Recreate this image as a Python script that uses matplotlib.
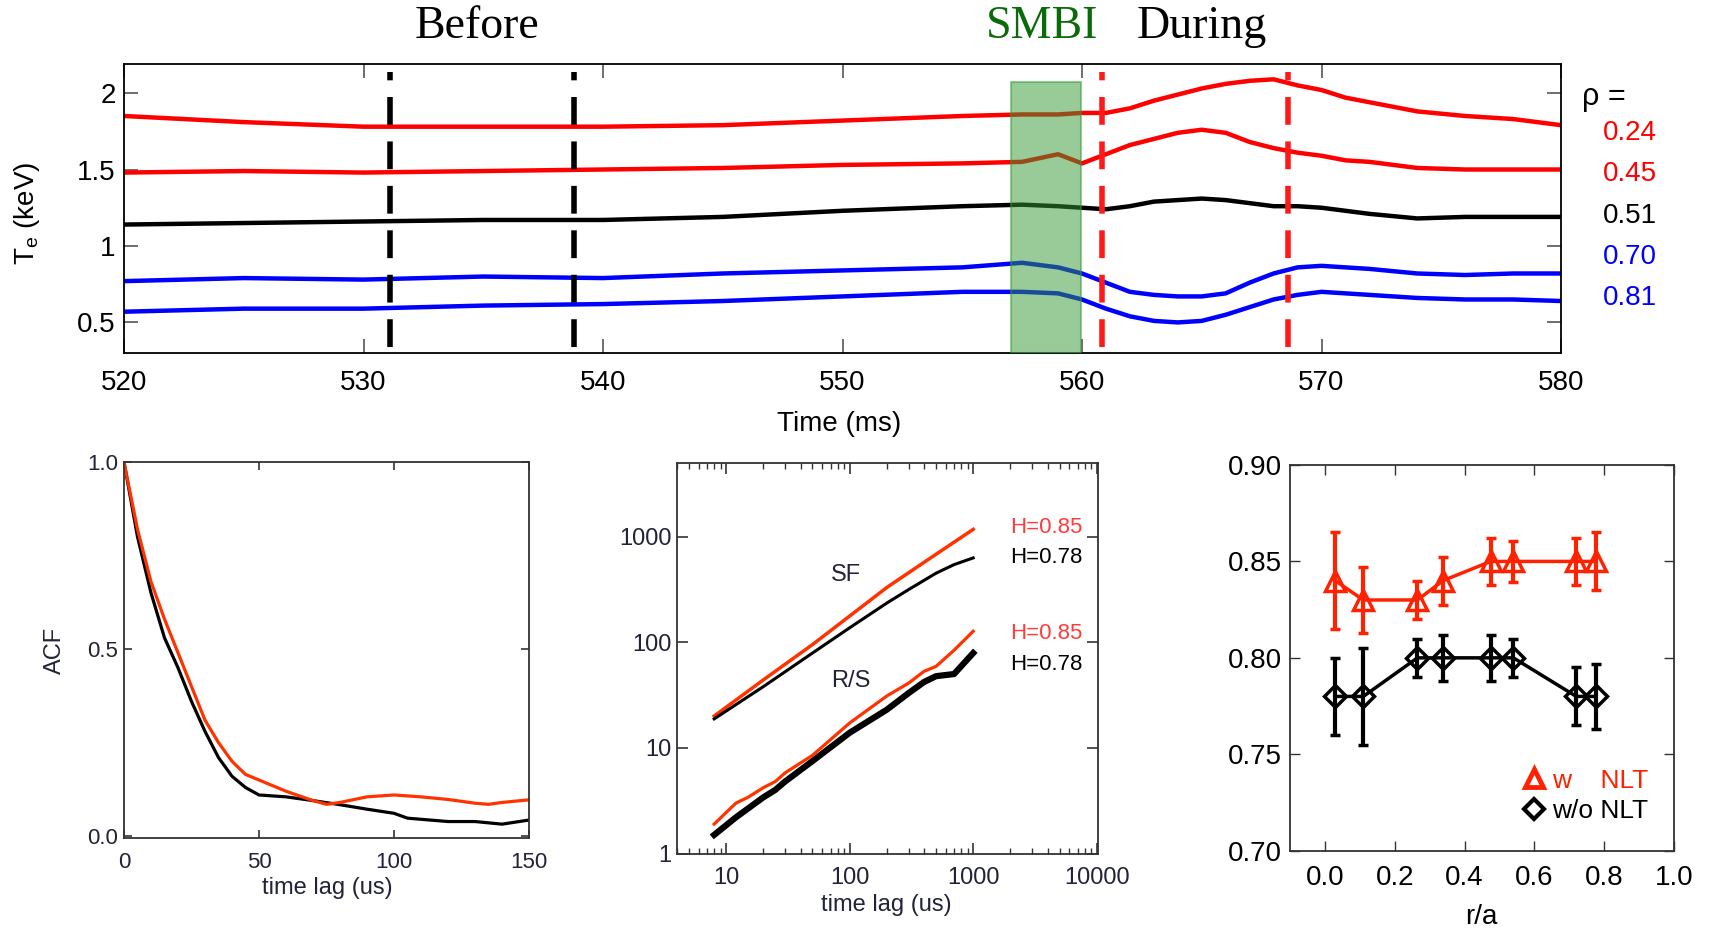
import numpy as np
import matplotlib
matplotlib.use("Agg")
import matplotlib.pyplot as plt
from matplotlib.lines import Line2D
from matplotlib.patches import Rectangle

plt.rcParams['font.family'] = ['Liberation Sans', 'DejaVu Sans']

# ---- top panel: Te traces ----
t_ms = [520, 525, 530, 535, 540, 545, 550, 555, 557.5, 559, 560, 561, 562, 563,
        564, 565, 566, 567, 568, 569, 570, 571, 572, 574, 576, 578, 580]
te_024 = [1.85, 1.81, 1.78, 1.78, 1.78, 1.79, 1.82, 1.85, 1.86, 1.86, 1.87, 1.87, 1.90, 1.95,
          1.99, 2.03, 2.06, 2.08, 2.09, 2.05, 2.02, 1.97, 1.94, 1.88, 1.85, 1.83, 1.79]
te_045 = [1.48, 1.49, 1.48, 1.49, 1.50, 1.51, 1.53, 1.54, 1.55, 1.60, 1.54, 1.60, 1.66, 1.70,
          1.74, 1.76, 1.74, 1.68, 1.64, 1.61, 1.59, 1.56, 1.55, 1.51, 1.50, 1.50, 1.50]
te_051 = [1.14, 1.15, 1.16, 1.17, 1.17, 1.19, 1.23, 1.26, 1.27, 1.26, 1.25, 1.24, 1.26, 1.29,
          1.30, 1.31, 1.30, 1.28, 1.26, 1.26, 1.25, 1.23, 1.21, 1.18, 1.19, 1.19, 1.19]
te_070 = [0.77, 0.79, 0.78, 0.80, 0.79, 0.82, 0.84, 0.86, 0.89, 0.86, 0.82, 0.76, 0.70, 0.68,
          0.67, 0.67, 0.69, 0.76, 0.82, 0.86, 0.87, 0.86, 0.85, 0.82, 0.81, 0.82, 0.82]
te_081 = [0.57, 0.59, 0.59, 0.61, 0.62, 0.64, 0.67, 0.70, 0.70, 0.69, 0.65, 0.59, 0.54, 0.51,
          0.50, 0.51, 0.55, 0.60, 0.65, 0.68, 0.70, 0.69, 0.68, 0.66, 0.65, 0.65, 0.64]
rho_labels = ['0.24', '0.45', '0.51', '0.70', '0.81']
trace_colors = ['#ff0000', '#ff0000', 'black', '#0000ff', '#0000ff']
before_t = [531.1, 538.8]
during_t = [560.85, 568.6]
smbi_t = [557.05, 559.95]

# ---- bottom left: ACF ----
lag_acf = [0, 5, 10, 15, 20, 25, 30, 35, 40, 45, 50, 60, 70, 75, 80, 90, 100, 110, 120, 130, 135, 140, 150]
acf_w = [1.0, 0.82, 0.68, 0.58, 0.49, 0.40, 0.31, 0.25, 0.20, 0.165, 0.15, 0.12, 0.095, 0.085,
         0.09, 0.105, 0.11, 0.105, 0.098, 0.088, 0.085, 0.09, 0.097]
lag_acf_b = [0, 5, 10, 15, 20, 25, 30, 35, 40, 45, 50, 60, 70, 80, 90, 100, 105, 110, 120, 130, 140, 150]
acf_wo = [1.0, 0.80, 0.65, 0.53, 0.45, 0.36, 0.28, 0.21, 0.16, 0.13, 0.11, 0.105, 0.095, 0.084,
          0.072, 0.061, 0.048, 0.045, 0.039, 0.039, 0.032, 0.043]

# ---- bottom middle: SF and R/S ----
lag_sf = [8, 20, 50, 100, 200, 500, 1000]
sf_w = [20, 44, 95, 177, 330, 680, 1170]
lag_sf_b = [8, 20, 50, 100, 200, 300, 500, 700, 1000]
sf_wo = [18.8, 38, 79, 137, 235, 315, 450, 543, 628]
lag_rs = [8, 12, 15, 20, 25, 30, 50, 100, 200, 300, 400, 500, 700, 1000]
rs_w = [1.9, 3.0, 3.4, 4.2, 4.8, 5.8, 8.5, 17.2, 31, 41, 53, 59, 84, 127]
lag_rs_b = [8, 12, 20, 25, 30, 50, 100, 200, 300, 400, 500, 700, 1000]
rs_wo = [1.5, 2.2, 3.4, 4.0, 4.8, 7.5, 13.9, 23, 33, 42, 47.7, 50, 79]

# ---- bottom right: Hurst exponent vs r/a ----
ra = [0.03, 0.11, 0.265, 0.338, 0.475, 0.54, 0.72, 0.777]
h_w = [0.84, 0.83, 0.83, 0.84, 0.85, 0.85, 0.85, 0.85]
h_w_err = [0.025, 0.017, 0.010, 0.0125, 0.012, 0.0105, 0.012, 0.015]
h_wo = [0.78, 0.78, 0.80, 0.80, 0.80, 0.80, 0.78, 0.78]
h_wo_err = [0.020, 0.025, 0.010, 0.012, 0.012, 0.010, 0.015, 0.017]

W, H = 1713, 932
fig = plt.figure(figsize=(W / 100, H / 100), dpi=100)

# ===================== top panel =====================
ax = fig.add_axes([124 / W, 1 - 353 / H, (1561 - 124) / W, (353 - 64) / H])
for y, c in zip([te_024, te_045, te_051, te_070, te_081], trace_colors):
    ax.plot(t_ms, y, color=c, lw=3.2, zorder=2)
for x in before_t:
    ax.plot([x, x], [0.34, 2.14], color='black', lw=4, dashes=(5, 3), zorder=3)
for x in during_t:
    ax.plot([x, x], [0.34, 2.14], color='#ff1a1a', lw=4, dashes=(5, 3), zorder=3)
ax.add_patch(Rectangle((smbi_t[0], 0.30), smbi_t[1] - smbi_t[0], 2.07 - 0.30,
                       facecolor='#339933', alpha=0.5, edgecolor='#339933', lw=1.5, zorder=4))
ax.set_xlim(520, 580)
ax.set_ylim(0.30, 2.19)
ax.set_xticks([520, 530, 540, 550, 560, 570, 580])
ax.set_yticks([0.5, 1, 1.5, 2])
ax.set_yticklabels(['0.5', '1', '1.5', '2'])
ax.tick_params(direction='in', length=10, width=1.2, top=True, right=True,
               labelsize=20, color='#555555')
ax.tick_params(axis='x', pad=12)
ax.tick_params(axis='y', pad=6)
for s in ax.spines.values():
    s.set_linewidth(1.3)

fig.text(839 / W, 1 - 424 / H, 'Time (ms)', fontsize=20, ha='center', va='center')
fig.text(27 / W, 1 - 213 / H, r'T$_\mathregular{e}$ (keV)', fontsize=20, rotation=90,
         ha='center', va='center')
fig.text(1582 / W, 1 - 97 / H, 'ρ =', fontsize=22, ha='left', va='center')
for lab, c, yp in zip(rho_labels, trace_colors, [133, 174, 216, 257, 298]):
    fig.text(1603 / W, 1 - yp / H, lab, fontsize=20, color=c, ha='left', va='center')

serif = ['Liberation Serif', 'DejaVu Serif']
fig.text(477 / W, 1 - 27 / H, 'Before', fontsize=33, family=serif, ha='center', va='center')
fig.text(1042 / W, 1 - 27 / H, 'SMBI', fontsize=33, family=serif, color='#0b6b0b',
         ha='center', va='center')
fig.text(1202 / W, 1 - 27 / H, 'During', fontsize=33, family=serif, ha='center', va='center')

# ===================== ACF =====================
navy = '#222238'
red_o = '#ff3300'
ax1 = fig.add_axes([124 / W, 1 - 838 / H, (529 - 124) / W, (838 - 462) / H])
ax1.plot(lag_acf_b, acf_wo, color='black', lw=2.3)
ax1.plot(lag_acf, acf_w, color=red_o, lw=2.3)
ax1.set_xlim(0, 150)
ax1.set_ylim(-0.005, 1.0)
ax1.set_xticks([0, 50, 100, 150])
ax1.set_yticks([0.0, 0.5, 1.0])
ax1.set_yticklabels(['0.0', '0.5', '1.0'])
ax1.tick_params(direction='in', length=6, width=1.2, top=True, right=True,
                labelsize=16, labelcolor=navy, color='#333333')
ax1.tick_params(axis='x', pad=10)
ax1.tick_params(axis='y', pad=4)
for s in ax1.spines.values():
    s.set_linewidth(1.3)
    s.set_color('#333333')
fig.text(55 / W, 1 - 650 / H, 'ACF', fontsize=17, rotation=90, color=navy, ha='center', va='center')
fig.text(327 / W, 1 - 888 / H, 'time lag (us)', fontsize=17, color=navy, ha='center', va='center')

# ===================== SF and R/S =====================
ax2 = fig.add_axes([677 / W, 1 - 853.5 / H, (1098.3 - 677) / W, (853.5 - 463.3) / H])
ax2.loglog(lag_sf, sf_w, color=red_o, lw=2.5)
ax2.loglog(lag_sf_b, sf_wo, color='black', lw=2.2)
ax2.loglog(lag_rs_b, rs_wo, color='black', lw=4.5)
ax2.loglog(lag_rs, rs_w, color=red_o, lw=2.3)
ax2.set_xlim(4, 1.03e4)
ax2.set_ylim(1, 4940)
ax2.set_xticks([10, 100, 1000, 10000])
ax2.set_xticklabels(['10', '100', '1000', '10000'])
ax2.set_yticks([1, 10, 100, 1000])
ax2.set_yticklabels(['1', '10', '100', '1000'])
ax2.tick_params(which='major', direction='in', length=8, width=1.2, top=True, right=True,
                labelsize=17, labelcolor=navy, color='#333333')
ax2.tick_params(which='minor', direction='in', length=4, width=1, top=True, right=False,
                left=False, color='#333333')
ax2.tick_params(axis='x', pad=10)
ax2.tick_params(axis='y', pad=4)
for s in ax2.spines.values():
    s.set_linewidth(1.3)
    s.set_color('#333333')
ax2.text(94, 435, 'SF', fontsize=17, color=navy, ha='center', va='center')
ax2.text(103, 42.7, 'R/S', fontsize=17, color=navy, ha='center', va='center')
for yv, lab, c in [(1227, 'H=0.85', '#ff3b3b'), (638, 'H=0.78', 'black'),
                   (120, 'H=0.85', '#ff3b3b'), (61, 'H=0.78', 'black')]:
    ax2.text(1987, yv, lab, fontsize=16, color=c, ha='left', va='center')
fig.text(886.7 / W, 1 - 905 / H, 'time lag (us)', fontsize=17, color=navy, ha='center', va='center')

# ===================== H vs r/a =====================
red_h = '#ff2200'
ax3 = fig.add_axes([1290 / W, 1 - 850.7 / H, (1674 - 1290) / W, (850.7 - 465) / H])
ax3.errorbar(ra, h_w, yerr=h_w_err, fmt='-^', color=red_h, mfc='none', mec=red_h, ms=15,
             mew=2.5, lw=2.5, elinewidth=3, capsize=3.5, capthick=3)
ax3.errorbar(ra, h_wo, yerr=h_wo_err, fmt='-D', color='black', mfc='none', mec='black', ms=11,
             mew=2.5, lw=2.5, elinewidth=3, capsize=3.5, capthick=3)
ax3.set_xlim(-0.1, 1.0)
ax3.set_ylim(0.70, 0.90)
ax3.set_xticks([0.0, 0.2, 0.4, 0.6, 0.8, 1.0])
ax3.set_xticklabels(['0.0', '0.2', '0.4', '0.6', '0.8', '1.0'])
ax3.set_yticks([0.70, 0.75, 0.80, 0.85, 0.90])
ax3.set_yticklabels(['0.70', '0.75', '0.80', '0.85', '0.90'])
ax3.tick_params(direction='in', length=7, width=1, top=True, right=True,
                labelsize=20, color='#333333')
ax3.tick_params(axis='x', pad=10)
ax3.tick_params(axis='y', pad=6)
for s in ax3.spines.values():
    s.set_linewidth(1.3)
    s.set_color('#333333')
handles = [Line2D([], [], marker='^', ls='none', mfc='none', mec=red_h, mew=3.5, ms=13),
           Line2D([], [], marker='D', ls='none', mfc='none', mec='black', mew=3, ms=10)]
ax3.legend(handles, ['w    NLT', 'w/o NLT'], loc='lower right', bbox_to_anchor=(0.975, 0.03),
           frameon=False, fontsize=19, handlelength=0.8, handletextpad=0.3, labelspacing=0.25,
           labelcolor=[red_h, 'black'], borderaxespad=0.2)
fig.text(1481.7 / W, 1 - 917 / H, 'r/a', fontsize=20, ha='center', va='center')

fig.savefig('out.png', dpi=100)
